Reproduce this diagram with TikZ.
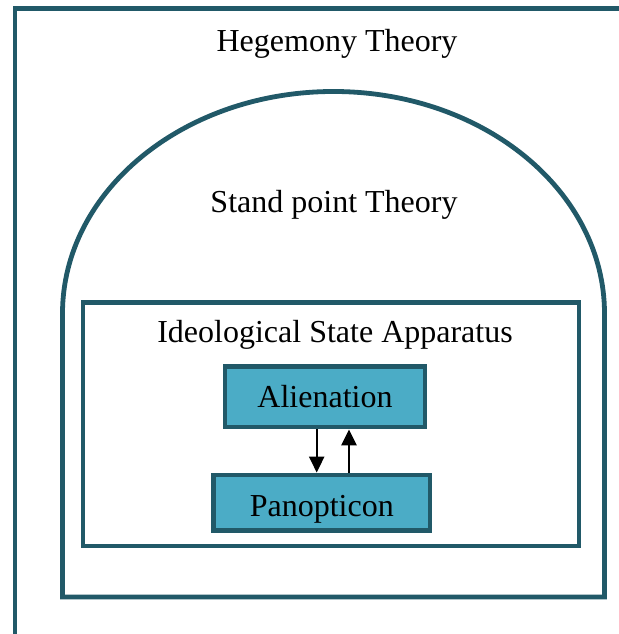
\documentclass[tikz,border=0pt]{standalone}
\usepackage{fontspec}
\setmainfont{Liberation Serif}
\usetikzlibrary{arrows.meta}
\definecolor{frameteal}{HTML}{215968}
\definecolor{boxteal}{HTML}{4BACC6}
\begin{document}
\begin{tikzpicture}[x=1pt,y=1pt,
  frame/.style={draw=frameteal, line width=4.8pt},
  label/.style={font=\fontsize{32}{38}\selectfont, anchor=base, inner sep=0pt},
  conceptbox/.style={frame, fill=boxteal, font=\fontsize{32}{38}\selectfont,
    inner sep=0pt, text depth=0pt},
  flow/.style={line width=2.4pt, -{Triangle[length=16pt,width=15pt]}}]
\useasboundingbox (0,0) rectangle (618,634);
\fill[white] (0,0) rectangle (618,634);

% outermost frame (only its left and top edges fall on the page)
\draw[frame] (15,-5) -- (15,625.5) -- (625,625.5);

% arched frame
\draw[frame] (62.5,37) -- (62.5,320.5)
  arc[start angle=180, end angle=0, x radius=271, y radius=222]
  -- (604.5,37) -- cycle;

% inner rectangle
\draw[frame] (83,88) rectangle (579,331.5);

% titles
\node[label] (heg) at (337,582) {Hegemony Theory};
\node[label] (stand) at (334,421) {Stand point Theory};
\node[label] (isa) at (335,291) {Ideological State Apparatus};

% concept boxes
\node[conceptbox, minimum width=200pt, minimum height=60.5pt, text height=22.5pt]
  (alien) at (325,237.25) {Alienation};
\node[conceptbox, minimum width=216.5pt, minimum height=55.5pt, text height=28pt]
  (pan) at (321.75,131.25) {Panopticon};

% connectors
\coordinate (downx) at (316.7,0);
\coordinate (upx) at (349,0);
\draw[flow] (downx |- alien.south) -- (downx |- pan.north);
\draw[flow] (upx |- pan.north) -- (upx |- alien.south);
\end{tikzpicture}
\end{document}
